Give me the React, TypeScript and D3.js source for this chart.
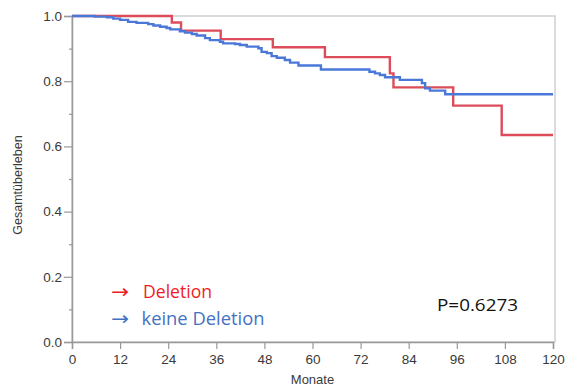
import { useEffect, useRef } from 'react';
import * as d3 from 'd3';

// Kaplan-Meier steps: [month, survival]
const deletion: [number, number][] = [
  [0, 1.0], [24.9, 0.98], [27.2, 0.955], [37.1, 0.929], [50.1, 0.904],
  [63.1, 0.874], [79.3, 0.824], [80.2, 0.781], [95.1, 0.725], [107.2, 0.635],
];
const keineDeletion: [number, number][] = [
  [0, 1.0], [5.7, 0.998], [8.7, 0.996], [10.3, 0.992], [12.0, 0.988], [14.0, 0.982],
  [16.1, 0.979], [19.0, 0.975], [20.3, 0.971], [22.0, 0.967], [23.6, 0.963],
  [24.5, 0.959], [26.9, 0.953], [28.2, 0.949], [29.9, 0.945], [31.1, 0.94],
  [33.2, 0.932], [34.4, 0.926], [36.9, 0.921], [37.7, 0.916], [40.7, 0.914],
  [41.9, 0.911], [43.6, 0.906], [46.5, 0.901], [47.3, 0.89], [48.6, 0.886],
  [49.8, 0.877], [51.1, 0.872], [53.1, 0.865], [54.4, 0.857], [56.5, 0.848],
  [62.1, 0.836], [74.2, 0.829], [75.6, 0.824], [76.8, 0.819], [78.1, 0.812],
  [81.8, 0.804], [87.3, 0.794], [88.1, 0.778], [89.3, 0.771], [93.1, 0.76],
];
const endMonth = 120;
const xTicks = [0, 12, 24, 36, 48, 60, 72, 84, 96, 108, 120];
const yTicks = [0, 0.2, 0.4, 0.6, 0.8, 1.0];
const yMinorTicks = [0.1, 0.3, 0.5, 0.7, 0.9];

export default function App() {
  const svgRef = useRef<SVGSVGElement | null>(null);

  useEffect(() => {
    if (!svgRef.current) return;
    const svg = d3.select(svgRef.current);
    svg.selectAll('*').remove();

    const left = 72, right = 553, top = 16, bottom = 342;
    const x = d3.scaleLinear().domain([0, 120]).range([left, right]);
    const y = d3.scaleLinear().domain([0, 1]).range([bottom, top]);
    const tickFont = 'Liberation Sans, Arial, sans-serif';

    // frame
    svg.append('rect')
      .attr('x', left).attr('y', top)
      .attr('width', right + 2 - left).attr('height', bottom - top)
      .attr('fill', 'none').attr('stroke', '#cfcfcf').attr('stroke-width', 1.5);

    // axes
    const yAxis = svg.append('g').attr('transform', `translate(${left},0)`);
    yAxis.call(d3.axisLeft(y).tickValues(yTicks).tickSize(8).tickFormat(d3.format('.1f')));
    yAxis.append('g').call(d3.axisLeft(y).tickValues(yMinorTicks).tickSize(3).tickFormat(() => ''));
    const xAxis = svg.append('g').attr('transform', `translate(0,${bottom})`);
    xAxis.call(d3.axisBottom(x).tickValues(xTicks).tickSize(7).tickFormat(d3.format('d')));

    svg.selectAll('.domain').attr('stroke', '#999').attr('stroke-width', 1.5);
    svg.selectAll('.tick line').attr('stroke', '#999').attr('stroke-width', 1.2);
    svg.selectAll('.tick text')
      .attr('fill', '#3a3a3a').style('font-family', tickFont).style('font-size', '13.5px');
    yAxis.selectAll('.tick text').attr('x', -10);
    xAxis.selectAll('.tick text').attr('y', 12);
    yAxis.selectAll('g g .domain').remove();

    // curves
    const line = d3.line<[number, number]>()
      .x(d => x(d[0])).y(d => y(d[1]))
      .curve(d3.curveStepAfter);

    const draw = (data: [number, number][], color: string) => {
      const pts: [number, number][] = [...data, [endMonth, data[data.length - 1][1]]];
      svg.append('path')
        .attr('d', line(pts))
        .attr('fill', 'none')
        .attr('stroke', color)
        .attr('stroke-width', 2.4);
    };
    draw(deletion, '#dc4c5a');
    draw(keineDeletion, '#4a78d8');

    // axis titles
    svg.append('text')
      .attr('x', (left + right) / 2).attr('y', 384)
      .attr('text-anchor', 'middle')
      .attr('fill', '#3a3a3a')
      .style('font-family', tickFont).style('font-size', '13px')
      .text('Monate');
    svg.append('text')
      .attr('transform', `translate(22,${(top + bottom) / 2 + 6}) rotate(-90)`)
      .attr('text-anchor', 'middle')
      .attr('fill', '#3a3a3a')
      .style('font-family', tickFont).style('font-size', '12.5px')
      .text('Gesamtüberleben');

    // legend
    const legendFont = '"Open Sans", "Noto Sans", sans-serif';
    const legend = [
      { label: 'Deletion', color: '#ee1c25', base: 298, len: 69, x: 143 },
      { label: 'keine Deletion', color: '#4472c4', base: 325, len: 123, x: 141.5 },
    ];
    legend.forEach(item => {
      svg.append('text')
        .attr('x', 111).attr('y', item.base)
        .attr('fill', item.color)
        .attr('textLength', 18).attr('lengthAdjust', 'spacingAndGlyphs')
        .style('font-family', 'DejaVu Sans, sans-serif').style('font-size', '19px')
        .text('→');
      svg.append('text')
        .attr('x', item.x).attr('y', item.base)
        .attr('fill', item.color)
        .attr('textLength', item.len).attr('lengthAdjust', 'spacingAndGlyphs')
        .style('font-family', legendFont).style('font-size', '17.5px')
        .text(item.label);
    });

    svg.append('text')
      .attr('x', 437).attr('y', 310.5)
      .attr('fill', '#111')
      .attr('textLength', 81).attr('lengthAdjust', 'spacingAndGlyphs')
      .style('font-family', legendFont).style('font-size', '17px')
      .text('P=0.6273');
  }, []);

  return (
    <svg
      ref={svgRef}
      width={566}
      height={387}
      style={{ position: 'absolute', left: 0, top: 0, background: '#fff' }}
    />
  );
}
